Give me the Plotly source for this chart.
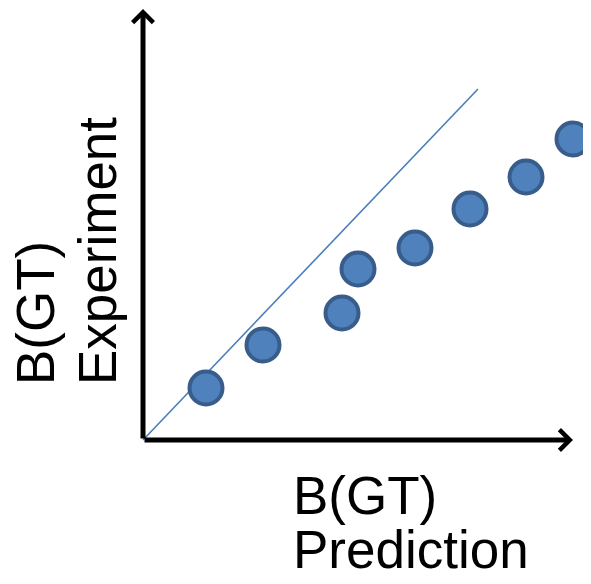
import plotly.graph_objects as go

# Data (units: arbitrary)
pred = [1.575, 3.0, 4.975, 5.375, 6.8, 8.175, 9.575, 10.75]
expt = [1.3, 2.375, 3.175, 4.275, 4.8, 5.775, 6.575, 7.525]
diag_x = [0.0, 8.375]
diag_y = [0.0, 8.775]
x_axis_end = 10.75
y_axis_end = 10.775

OFF = 8  # page body margin
W, H = 591 - OFF, 584 - OFF
FONT = "Liberation Sans, Arial, sans-serif"
FS = 53

fig = go.Figure()
fig.add_trace(go.Scatter(x=diag_x, y=diag_y, mode="lines",
                         line=dict(color="#4A7EBB", width=1.6),
                         hoverinfo="skip", showlegend=False))
fig.add_trace(go.Scatter(x=pred, y=expt, mode="markers",
                         marker=dict(size=33, color="#4F81BD",
                                     line=dict(color="#385D8A", width=4)),
                         showlegend=False))

def px(x):
    return (x - OFF) / W

def py(y):
    return 1 - (y - OFF) / H

annotations = [
    dict(x=x_axis_end, y=0, ax=0, ay=0, xref="x", yref="y", axref="x", ayref="y",
         text="", showarrow=True, arrowhead=4, arrowwidth=5, arrowsize=0.8,
         arrowcolor="#000000", standoff=0),
    dict(x=0, y=y_axis_end, ax=0, ay=0, xref="x", yref="y", axref="x", ayref="y",
         text="", showarrow=True, arrowhead=4, arrowwidth=5, arrowsize=0.8,
         arrowcolor="#000000", standoff=0),
    dict(x=px(291), y=py(495), xref="paper", yref="paper", text="B(GT)",
         showarrow=False, xanchor="left", yanchor="middle",
         font=dict(family=FONT, size=FS, color="#000000")),
    dict(x=px(291), y=py(549), xref="paper", yref="paper", text="Prediction",
         showarrow=False, xanchor="left", yanchor="middle",
         font=dict(family=FONT, size=FS, color="#000000")),
    dict(x=px(35), y=py(387), xref="paper", yref="paper", text="B(GT)",
         showarrow=False, xanchor="center", yanchor="bottom", textangle=-90,
         font=dict(family=FONT, size=FS, color="#000000")),
    dict(x=px(97), y=py(387), xref="paper", yref="paper", text="Experiment",
         showarrow=False, xanchor="center", yanchor="bottom", textangle=-90,
         font=dict(family=FONT, size=FS, color="#000000")),
]

k = 40.0
ox, oy = 143 - OFF, 440 - OFF
fig.update_layout(
    width=W, height=H,
    margin=dict(l=0, r=0, t=0, b=0),
    paper_bgcolor="white", plot_bgcolor="white",
    xaxis=dict(range=[-ox / k, (W - ox) / k], visible=False, fixedrange=True),
    yaxis=dict(range=[-(H - oy) / k, oy / k], visible=False, fixedrange=True),
    annotations=annotations,
    showlegend=False,
)

fig.write_html("out.html")
